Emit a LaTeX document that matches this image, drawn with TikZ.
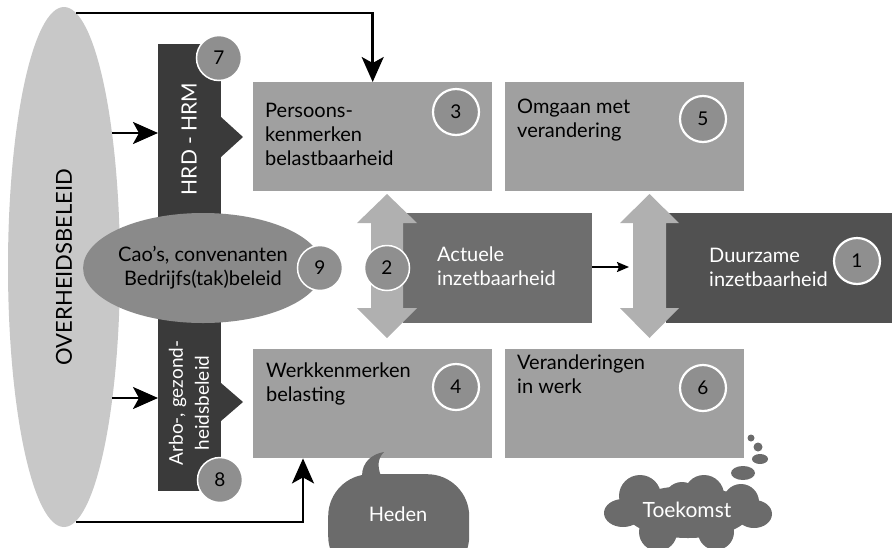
\documentclass[tikz,border=0pt]{standalone}
\usepackage{fontspec}
\setmainfont{Lato}
\usetikzlibrary{arrows.meta,shapes.geometric,calc}
\definecolor{ovhgray}{HTML}{C8C8C8}
\definecolor{bargray}{HTML}{3A3A3A}
\definecolor{boxgray}{HTML}{A0A0A0}
\definecolor{numgray}{HTML}{8F8F8F}
\definecolor{caogray}{HTML}{8A8A8A}
\definecolor{dblgray}{HTML}{B0B0B0}
\definecolor{actgray}{HTML}{6E6E6E}
\definecolor{duurgray}{HTML}{515151}
\definecolor{bubgray}{HTML}{6B6B6B}
\tikzset{
  lbox/.style={fill=boxgray, minimum width=239pt, minimum height=109pt, inner sep=0pt, anchor=north west},
  dbox/.style={minimum width=#1, minimum height=110pt, inner sep=0pt, anchor=north west},
  btext/.style={anchor=north west, align=left, inner sep=0pt, font=\fontsize{20}{24}\selectfont},
  num/.style={circle, fill=numgray, draw=white, line width=2.2pt, minimum size=46pt, inner sep=0pt, font=\fontsize{19}{20}\selectfont},
  bigarrow/.style={line width=2.6pt, -{Stealth[length=25pt,width=22pt,inset=6pt]}},
}
\begin{document}
\begin{tikzpicture}[x=1pt,y=-1pt]
\useasboundingbox (0,0) rectangle (892,547);
\clip (0,0) rectangle (892,547);
% Overheidsbeleid
\node[ellipse, fill=ovhgray, minimum width=520pt, minimum height=112pt, inner sep=0pt, rotate=90,
      font=\fontsize{22}{24}\selectfont] (ovh) at (64,267) {OVERHEIDSBELEID};
\coordinate (ovtop) at (76,13);
\coordinate (ovbot) at (76,522);
\coordinate (ovr1) at (112,133);
\coordinate (ovr2) at (112,398);
% vertical bar
\node[fill=bargray, minimum width=63pt, minimum height=447pt, inner sep=0pt, anchor=north west] (bar) at (158,44) {};
\fill[bargray] (221,117) -- (243,137) -- (221,157) -- cycle;
\fill[bargray] (221,383) -- (243,402) -- (221,421) -- cycle;
\node[rotate=90, text=white, font=\fontsize{21}{24}\selectfont] (hrd) at (189,139) {HRD - HRM};
\node[rotate=90, text=white, align=center, font=\fontsize{19}{26}\selectfont] (arbo) at (189,403) {Arbo-, gezond-\\heidsbeleid};
\coordinate (bar1) at (158,133);
\coordinate (bar2) at (158,398);
% boxes
\node[lbox] (b3) at (253,82) {};
\node[lbox] (b5) at (505,82) {};
\node[lbox] (b4) at (253,349) {};
\node[lbox] (b6) at (505,349) {};
\node[btext] (t3) at (265,102.5) {Persoons-\\kenmerken\\belastbaarheid};
\node[btext] (t5) at (517,98.5) {Omgaan met\\verandering};
\node[btext] (t4) at (266,363) {Werkkenmerken\\belasting};
\node[btext] (t6) at (517,355) {Veranderingen\\in werk};
% middle row
\node[dbox=189pt, fill=actgray] (act) at (403,213) {};
\node[dbox=226pt, fill=duurgray] (duur) at (666,213) {};
\node[btext, text=white] (tact) at (437,247) {Actuele\\inzetbaarheid};
\node[btext, text=white] (tduur) at (709,247.5) {Duurzame\\inzetbaarheid};
% double arrows
\fill[dblgray] (387,194) -- (417,223) -- (403,223) -- (403,308) -- (417,308) -- (387,338) -- (357,308) -- (371,308) -- (371,223) -- (357,223) -- cycle;
\fill[dblgray] (649.5,194) -- (679,223) -- (666,223) -- (666,308) -- (679,308) -- (649.5,338) -- (620,308) -- (633,308) -- (633,223) -- (620,223) -- cycle;
\coordinate (dblleft) at (629,267);
\draw[line width=1.8pt, -{Stealth[length=12pt,width=10pt,inset=2pt]}] (act.east |- dblleft) -- (dblleft);
% Cao ellipse
\node[ellipse, fill=caogray, minimum width=226pt, minimum height=110pt, inner sep=0pt, align=center,
      font=\fontsize{20}{24}\selectfont] (cao) at (203,268) {Cao's, convenanten\\Bedrijfs(tak)beleid};
% numbers
\node[num] (n3) at (456,112) {3};
\node[num] (n5) at (703,119) {5};
\node[num] (n4) at (456,387) {4};
\node[num] (n6) at (703,388) {6};
\node[num] (n1) at (857,261) {1};
\node[num, line width=1.5pt, minimum size=45pt] (n2) at (387,268) {2};
\node[num, line width=1.5pt, minimum size=45pt] (n9) at (320,268) {9};
\node[num, line width=1.5pt, minimum size=45pt] (n7) at (219,58) {7};
\node[num, line width=1.5pt, minimum size=45pt] (n8) at (220,480) {8};
% connectors
\draw[bigarrow] (ovtop) -| (b3.north);
\draw[bigarrow] (ovbot) -| ([xshift=50pt]b4.south west);
\draw[bigarrow] (ovr1) -- (bar1);
\draw[bigarrow] (ovr2) -- (bar2);
% Heden bubble
\fill[bubgray] (362,476) .. controls (362,462) and (372,454) .. (384,452) .. controls (378,458) and (377,466) .. (381,476) -- cycle;
\node[fill=bubgray, rounded corners=42pt, minimum width=141pt, minimum height=104pt, inner sep=0pt, anchor=north west] (heden) at (328,474) {};
\node[text=white, font=\fontsize{20}{22}\selectfont] (theden) at (398,514) {Heden};
% Toekomst cloud
\begin{scope}[bubgray]
\fill (688,512) ellipse [x radius=62, y radius=26];
\fill (640,496) circle [radius=21];
\fill (682,500) circle [radius=18];
\fill (704,495) circle [radius=20];
\fill (741,502) circle [radius=18];
\fill (623,513) ellipse [x radius=19, y radius=14];
\fill (754,514) ellipse [x radius=18, y radius=14];
\fill (658,532) circle [radius=19];
\fill (716,532) circle [radius=18];
\fill (743,473) ellipse [x radius=12, y radius=7];
\fill (760,459) ellipse [x radius=8, y radius=5];
\fill (758,447) circle [radius=4.5];
\fill (751,438) circle [radius=3.5];
\end{scope}
\node[text=white, font=\fontsize{21}{22}\selectfont] (ttoek) at (687,510) {Toekomst};
\end{tikzpicture}
\end{document}
